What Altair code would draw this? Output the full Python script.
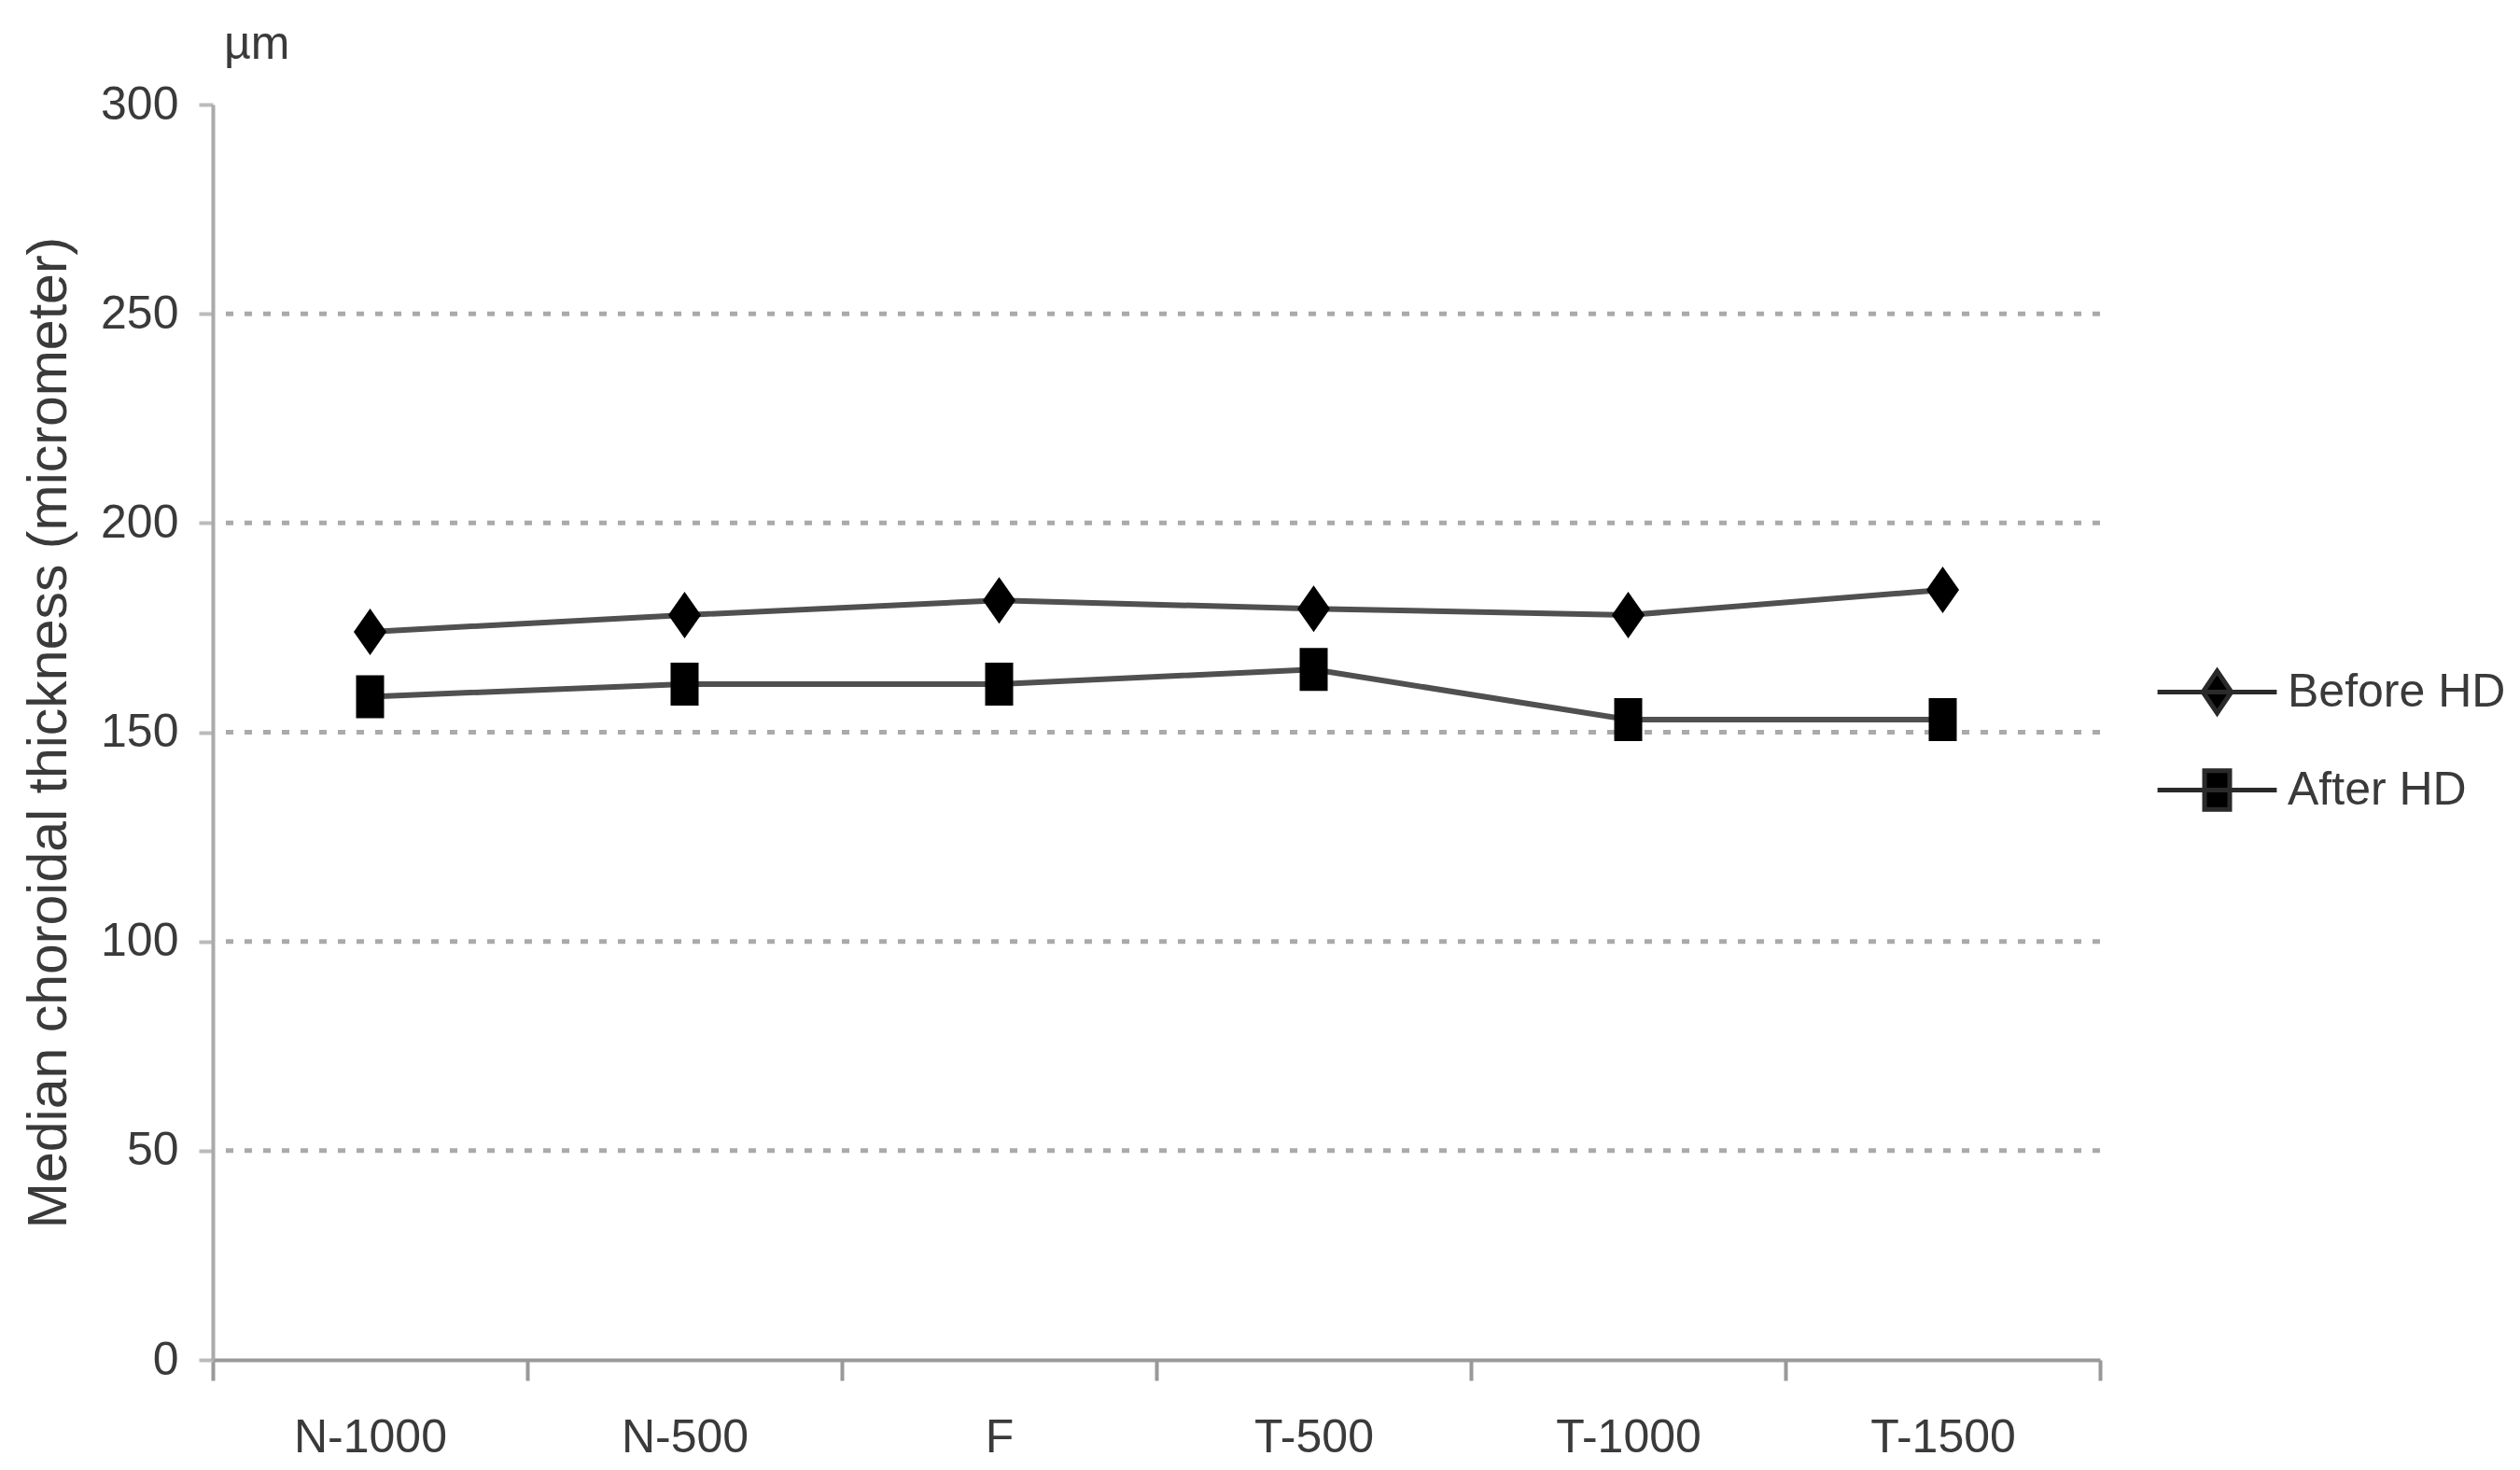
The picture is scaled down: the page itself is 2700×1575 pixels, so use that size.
import altair as alt
import pandas as pd

# ---- data ----
CATS = ["N-1000", "N-500", "F", "T-500", "T-1000", "T-1500"]
BEFORE = [174, 178, 181.5, 179.5, 178, 184]
AFTER = [158.5, 161.5, 161.5, 165, 153, 153]
SERIES = ["Before HD", "After HD"]
Y_TICKS = [0, 50, 100, 150, 200, 250, 300]
GRID = [50, 100, 150, 200, 250]
Y_TITLE = "Median choroidal thickness (micrometer)"
UNIT = "µm"

rows = []
for c, b, a in zip(CATS, BEFORE, AFTER):
    rows.append({"cat": c, "series": SERIES[0], "value": b})
    rows.append({"cat": c, "series": SERIES[1], "value": a})
df = pd.DataFrame(rows)
grid_df = pd.DataFrame({"value": GRID})

W, H = 2022, 1345
FONT = "Liberation Sans"
TXT = "#3a3a3a"

# marker shapes (unit square paths)
DIAMOND = "M0,-1L0.7,0L0,1L-0.7,0Z"
SQUARE = "M-0.6,-0.92H0.6V0.92H-0.6Z"
LEG_DIAMOND = "M-1.42,0H1.42M0,-0.5L0.34,0L0,0.5L-0.34,0Z"
LEG_SQUARE = "M-1.42,0H1.42M-0.3,-0.46H0.3V0.46H-0.3Z"

x_enc = alt.X(
    "cat:N", sort=CATS,
    scale=alt.Scale(type="band", paddingInner=0, paddingOuter=0),
    axis=alt.Axis(title=None, labelAngle=0, tickBand="extent", tickSize=22,
                  tickWidth=4, tickColor="#999999", domainColor="#999999",
                  domainWidth=4, labelPadding=36, labelFontSize=50,
                  labelColor=TXT, labelFont=FONT),
)
y_scale = alt.Scale(domain=[0, 300], nice=False, zero=True)
y_axis = alt.Axis(values=Y_TICKS, title=Y_TITLE, grid=False, tickSize=15,
                  tickWidth=4, tickColor="#bbbbbb", domainColor="#aaaaaa",
                  domainWidth=4, labelPadding=22, labelFontSize=50,
                  labelColor=TXT, labelFont=FONT, titleFontSize=59,
                  titleFont=FONT, titleFontWeight="normal", titleColor=TXT,
                  titleX=-176, titleY=H / 2, titleAngle=270,
                  titleAlign="center", titleBaseline="middle")
y_enc = alt.Y("value:Q", scale=y_scale, axis=y_axis)

grid = alt.Chart(grid_df).mark_rule(
    color="#aaaaaa", strokeWidth=5, strokeDash=[8, 12]
).encode(y=y_enc)

lines = alt.Chart(df).mark_line(color="#505050", strokeWidth=6).encode(
    x=x_enc, y=y_enc, detail="series:N"
)

markers = alt.Chart(df).mark_point(
    filled=True, fill="black", size=2500, strokeWidth=0, opacity=1
).encode(
    x=x_enc, y=y_enc,
    shape=alt.Shape("series:N",
                    scale=alt.Scale(domain=SERIES, range=[DIAMOND, SQUARE]),
                    legend=None),
)

legend_layer = alt.Chart(df).transform_filter("false").mark_point(
    filled=True, fill="black", stroke="#2a2a2a", strokeWidth=5, size=8100,
    opacity=1
).encode(
    x=x_enc, y=y_enc,
    shape=alt.Shape(
        "series:N",
        scale=alt.Scale(domain=SERIES, range=[LEG_DIAMOND, LEG_SQUARE]),
        legend=alt.Legend(title=None, orient="none", legendX=2100,
                          legendY=582, labelFontSize=50, labelFont=FONT,
                          labelColor=TXT, labelOffset=28, rowPadding=25,
                          labelLimit=600, symbolSize=8100,
                          symbolStrokeWidth=5),
    ),
)

chart = alt.layer(grid, lines, markers, legend_layer).resolve_scale(
    shape="independent"
).properties(
    width=W, height=H,
    title=alt.TitleParams(UNIT, anchor="start", frame="group", fontSize=50,
                          font=FONT, fontWeight="normal", color=TXT, dx=12,
                          dy=-10),
    autosize=alt.AutoSizeParams(type="none"),
    padding={"left": 220, "top": 104, "right": 442, "bottom": 110},
    background="white",
).configure_view(stroke=None)

chart.save("out.html", embed_options={"renderer": "svg", "actions": False})
